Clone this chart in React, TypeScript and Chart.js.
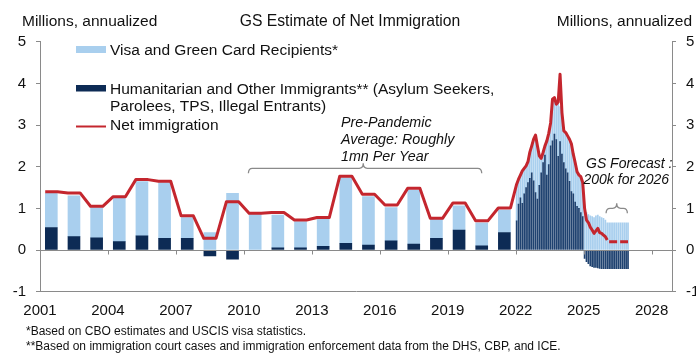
import React, { useEffect, useRef } from 'react';
import { Chart, registerables } from 'chart.js';

Chart.register(...registerables);

// ---------- DATA ----------
const years = [2001, 2002, 2003, 2004, 2005, 2006, 2007, 2008, 2009, 2010, 2011, 2012, 2013, 2014, 2015, 2016, 2017, 2018, 2019, 2020, 2021];
const visaAnnual = [0.82, 0.98, 0.73, 1.04, 1.30, 1.34, 0.50, 0.42, 1.36, 0.86, 0.79, 0.63, 0.67, 1.58, 1.16, 0.80, 1.30, 0.46, 0.58, 0.55, 0.54];
const humanitarianAnnual = [0.54, 0.32, 0.29, 0.20, 0.34, 0.28, 0.28, -0.14, -0.22, -0.01, 0.05, 0.05, 0.09, 0.16, 0.12, 0.22, 0.14, 0.28, 0.48, 0.10, 0.42];
const netAnnual = [1.40, 1.37, 1.05, 1.28, 1.69, 1.65, 0.82, 0.28, 1.16, 0.88, 0.90, 0.72, 0.78, 1.77, 1.34, 1.08, 1.48, 0.76, 1.13, 0.70, 1.01];

// Monthly series, Jan 2022 .. Dec 2026
const monthlyStartYear = 2022;
const visaMonthly = [
  0.88, 0.60, 0.55, 0.78, 0.61, 0.52, 0.50, 0.63, 0.65, 1.00, 1.38, 1.28,
  0.71, 0.35, 0.24, 0.22, 0.82, 0.75, 0.55, 0.98, 0.86, 0.83, 1.30, 0.84,
  0.90, 0.72, 0.83, 0.85, 0.95, 1.10, 0.90, 0.90, 0.80, 0.75, 0.80, 0.82,
  1.00, 0.90, 0.85, 0.82, 0.80, 0.78, 0.82, 0.84, 0.80, 0.78, 0.76, 0.72,
  0.65, 0.65, 0.65, 0.65, 0.65, 0.65, 0.65, 0.65, 0.65, 0.65, 0.65, 0.65,
];
const humanitarianMonthly = [
  0.70, 1.10, 1.25, 1.12, 1.35, 1.50, 1.62, 1.72, 1.85, 1.66, 1.38, 1.22,
  1.55, 1.85, 2.10, 2.28, 1.80, 2.05, 2.50, 2.62, 2.78, 2.65, 2.25, 2.60,
  2.30, 2.10, 1.95, 1.85, 1.65, 1.40, 1.35, 1.15, 1.05, 1.00, 0.90, 0.80,
  -0.20, -0.28, -0.33, -0.38, -0.40, -0.42, -0.42, -0.43, -0.44, -0.45, -0.45, -0.45,
  -0.45, -0.45, -0.45, -0.45, -0.45, -0.45, -0.45, -0.45, -0.45, -0.45, -0.45, -0.45,
];
// Net immigration, Jan 2022 .. Jan 2026 (estimate)
const netMonthly = [
  1.58, 1.70, 1.80, 1.90, 1.96, 2.02, 2.12, 2.35, 2.50, 2.66, 2.76, 2.50,
  2.26, 2.20, 2.34, 2.50, 2.62, 2.80, 3.05, 3.62, 3.66, 3.50, 3.55, 4.22,
  3.30, 2.86, 2.82, 2.74, 2.66, 2.55, 2.30, 2.10, 1.88, 1.80, 1.76, 1.62,
  1.00, 0.72, 0.66, 0.55, 0.48, 0.40, 0.46, 0.52, 0.42, 0.40, 0.36, 0.32,
  0.24,
];
// GS forecast, Feb 2026 .. Dec 2026
const netForecast = [0.20, 0.20, 0.20, 0.20, 0.20, 0.20, 0.20, 0.20, 0.20, 0.20, 0.20];

const xTickYears = [2001, 2004, 2007, 2010, 2013, 2016, 2019, 2022, 2025, 2028];

// ---------- STYLE ----------
const FONT = '"Liberation Sans", Arial, Helvetica, sans-serif';
const LIGHT = '#a9cfee';
const NAVY = '#0d2b55';
const NAVY_MONTHLY = '#1f4270';
const RED = '#c4262e';
const GRAY = '#8a8a8a';
const TEXT = '#111111';

const monthX = (i: number) => monthlyStartYear + (i + 0.5) / 12;

function drawBracket(ctx: CanvasRenderingContext2D, x1: number, x2: number, xc: number, y: number, hook: number, peak: number) {
  ctx.beginPath();
  ctx.moveTo(x1, y + hook);
  ctx.quadraticCurveTo(x1, y, x1 + 4, y);
  ctx.lineTo(xc - 4, y);
  ctx.quadraticCurveTo(xc, y, xc, y - peak);
  ctx.quadraticCurveTo(xc, y, xc + 4, y);
  ctx.lineTo(x2 - 4, y);
  ctx.quadraticCurveTo(x2, y, x2, y + hook);
  ctx.stroke();
}

const extrasPlugin = {
  id: 'extras',
  afterDatasetsDraw(chart: any) {
    const { ctx, chartArea, scales } = chart;
    const xs = scales.x;
    const ys = scales.y;
    const y0 = Math.round(ys.getPixelForValue(0)) + 0.5;
    ctx.save();
    ctx.strokeStyle = GRAY;
    ctx.lineWidth = 1;
    ctx.beginPath();
    ctx.moveTo(chartArea.left, y0);
    ctx.lineTo(chartArea.right, y0);
    xTickYears.forEach((v) => {
      const px = Math.round(xs.getPixelForValue(v)) + 0.5;
      ctx.moveTo(px, y0);
      ctx.lineTo(px, y0 + 4);
    });
    ctx.stroke();
    ctx.restore();
  },
  afterDraw(chart: any) {
    const { ctx, scales } = chart;
    const xs = scales.x;
    const ys = scales.y;
    const text = (s: string, x: number, y: number, size: number, align: CanvasTextAlign = 'left', italic = false) => {
      ctx.font = `${italic ? 'italic ' : ''}${size}px ${FONT}`;
      ctx.fillStyle = TEXT;
      ctx.textAlign = align;
      ctx.textBaseline = 'alphabetic';
      ctx.fillText(s, x, y);
    };
    ctx.save();
    // header
    text('Millions, annualized', 22, 26, 15.5);
    text('GS Estimate of Net Immigration', 350, 26, 15.7, 'center');
    text('Millions, annualized', 692, 26, 15.5, 'right');

    // legend
    ctx.fillStyle = LIGHT;
    ctx.fillRect(76, 46, 30, 7);
    text('Visa and Green Card Recipients*', 110, 54.5, 15.5);
    ctx.fillStyle = NAVY;
    ctx.fillRect(76, 85, 30, 6.5);
    text('Humanitarian and Other Immigrants** (Asylum Seekers,', 110, 93.5, 15.5);
    text('Parolees, TPS, Illegal Entrants)', 110, 110.5, 15.5);
    ctx.strokeStyle = RED;
    ctx.lineWidth = 2;
    ctx.beginPath();
    ctx.moveTo(76, 126.5);
    ctx.lineTo(106, 126.5);
    ctx.stroke();
    text('Net immigration', 110, 130, 15.5);

    // annotations
    text('Pre-Pandemic', 341, 127.3, 14.3, 'left', true);
    text('Average: Roughly', 341, 144.2, 14.3, 'left', true);
    text('1mn Per Year', 341, 160.5, 14.3, 'left', true);
    text('GS Forecast :', 586, 168, 14, 'left', true);
    text('200k for 2026', 583.5, 184, 14, 'left', true);

    ctx.strokeStyle = GRAY;
    ctx.lineWidth = 1.3;
    drawBracket(ctx, xs.getPixelForValue(2010.2), xs.getPixelForValue(2020.5), xs.getPixelForValue(2015.27), ys.getPixelForValue(1.96), 5, 5);
    drawBracket(ctx, xs.getPixelForValue(2025.99), xs.getPixelForValue(2026.93), xs.getPixelForValue(2026.46), ys.getPixelForValue(1.0), 5, 5);

    // footnotes
    text('*Based on CBO estimates and USCIS visa statistics.', 26, 334.5, 12);
    text('**Based on immigration court cases and immigration enforcement data from the DHS, CBP, and ICE.', 26, 349.5, 12);
    ctx.restore();
  },
};

export default function App() {
  const canvasRef = useRef<HTMLCanvasElement | null>(null);

  useEffect(() => {
    const canvas = canvasRef.current;
    if (!canvas) return;

    const annualX = (i: number) => years[i] + 0.5;
    const netPoints = [
      ...years.flatMap((yr, i) => [
        { x: yr + 0.23, y: netAnnual[i] },
        { x: yr + 0.77, y: netAnnual[i] },
      ]),
      ...netMonthly.map((v, i) => ({ x: monthX(i), y: v })),
    ];
    const forecastPoints = netForecast.map((v, j) => ({ x: monthX(netMonthly.length + j), y: v }));

    const tickFont = { family: FONT, size: 15 };

    const yAxisBase = (position: 'left' | 'right', width: number) => ({
      type: 'linear',
      position,
      min: -1,
      max: 5,
      ticks: { stepSize: 1, font: tickFont, color: TEXT, padding: 10 },
      grid: { drawOnChartArea: false, drawTicks: true, tickLength: 4, color: GRAY, lineWidth: 1 },
      border: { display: true, color: GRAY, width: 1 },
      afterFit: (s: any) => {
        s.width = width;
      },
    });

    const chart = new Chart(canvas, {
      data: {
        datasets: [
          {
            type: 'line',
            label: 'Net immigration',
            data: netPoints,
            borderColor: RED,
            borderWidth: 3,
            pointRadius: 0,
            tension: 0,
            borderJoinStyle: 'round',
            order: 0,
          },
          {
            type: 'line',
            label: 'GS forecast',
            data: forecastPoints,
            borderColor: RED,
            borderWidth: 3,
            borderDash: [8, 3],
            pointRadius: 0,
            tension: 0,
            order: 0,
          },
          {
            type: 'bar',
            label: 'Humanitarian annual',
            data: humanitarianAnnual.map((v, i) => ({ x: annualX(i), y: v })),
            backgroundColor: NAVY,
            barThickness: 12,
            stack: 'b',
            order: 1,
          },
          {
            type: 'bar',
            label: 'Visa annual',
            data: visaAnnual.map((v, i) => ({ x: annualX(i), y: v })),
            backgroundColor: LIGHT,
            barThickness: 12,
            stack: 'b',
            order: 1,
          },
          {
            type: 'bar',
            label: 'Humanitarian monthly',
            data: humanitarianMonthly.map((v, i) => ({ x: monthX(i), y: v })),
            backgroundColor: NAVY_MONTHLY,
            barThickness: 1.05,
            stack: 'b',
            order: 1,
          },
          {
            type: 'bar',
            label: 'Visa monthly',
            data: visaMonthly.map((v, i) => ({ x: monthX(i), y: v })),
            backgroundColor: LIGHT,
            barThickness: 1.05,
            stack: 'b',
            order: 1,
          },
        ],
      } as any,
      options: {
        responsive: false,
        animation: false,
        events: [],
        layout: { padding: { top: 41.7, left: 0, right: 0, bottom: 0 } },
        plugins: {
          legend: { display: false },
          tooltip: { enabled: false },
          title: { display: false },
        },
        scales: {
          x: {
            type: 'linear',
            min: 2001,
            max: 2028.9,
            offset: false,
            afterBuildTicks: (s: any) => {
              s.ticks = xTickYears.map((v) => ({ value: v }));
            },
            ticks: {
              autoSkip: false,
              maxRotation: 0,
              font: tickFont,
              color: TEXT,
              padding: 10,
              callback: (v: any) => String(v),
            },
            grid: { display: false, drawTicks: false },
            border: { display: true, color: GRAY, width: 1 },
            afterFit: (s: any) => {
              s.height = 62.3;
            },
          },
          y: yAxisBase('left', 40),
          y2: yAxisBase('right', 24),
        },
      } as any,
      plugins: [extrasPlugin],
    });

    return () => {
      chart.destroy();
    };
  }, []);

  return (
    <div
      style={{
        position: 'fixed',
        left: 0,
        top: 0,
        width: 696,
        height: 354,
        overflow: 'hidden',
        background: '#ffffff',
      }}
    >
      <canvas ref={canvasRef} width={696} height={354} style={{ display: 'block', width: 696, height: 354 }} />
    </div>
  );
}
